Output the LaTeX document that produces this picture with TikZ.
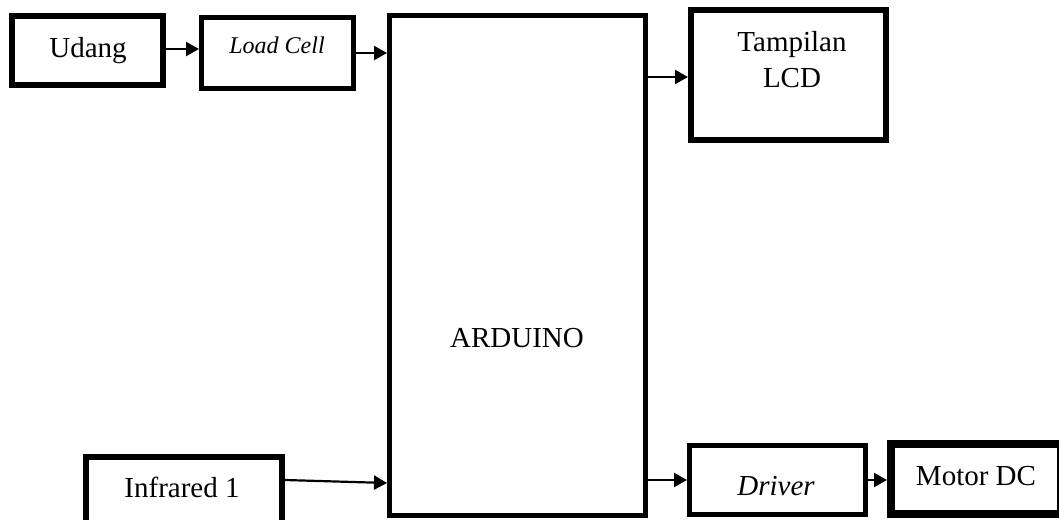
\documentclass[tikz,border=0pt]{standalone}
\usepackage{fontspec}
\setmainfont{Liberation Serif}
\usetikzlibrary{arrows.meta}
\begin{document}
\begin{tikzpicture}[x=1pt,y=-1pt,
  blk/.style={draw=black, fill=white, rectangle, inner sep=0pt},
  lbl/.style={anchor=base, inner sep=0pt, font=\fontsize{29}{37}\selectfont},
  conn/.style={line width=2.2pt, -{Triangle[length=13pt 0 0,width=14pt 0 0]}}]
\useasboundingbox (0,0) rectangle (1059,519);
\clip (0,0) rectangle (1059,519);
% boxes
\node (udang) [blk, line width=6pt, minimum width=151pt, minimum height=69pt] at (87.5,50.5) {};
\node (load)  [blk, line width=5pt, minimum width=152pt, minimum height=71pt] at (277.5,53) {};
\node (ard)   [blk, line width=5pt, minimum width=256pt, minimum height=500pt] at (517.5,265.5) {};
\node (lcd)   [blk, line width=6pt, minimum width=195pt, minimum height=130pt] at (788.5,75) {};
\node (infra) [blk, line width=6pt, minimum width=196pt, minimum height=75pt] at (184,494.5) {};
\node (drv)   [blk, line width=5pt, minimum width=176pt, minimum height=69pt] at (777.5,480) {};
\node (motor) [blk, line width=8pt, minimum width=170pt, minimum height=70pt] at (976,479) {};
% texts
\node (tudang) [lbl] at (88,58) {Udang};
\node (tload)  [lbl, font=\fontsize{24}{30}\selectfont\itshape] at (277,54) {Load Cell};
\node (tlcd1)  [lbl] at (792,52) {Tampilan};
\node (tlcd2)  [lbl] at (792,87) {LCD};
\node (tard)   [lbl] at (517,347) {ARDUINO};
\node (tinfra) [lbl] at (182,497) {Infrared 1};
\node (tdrv)   [lbl, font=\fontsize{29}{37}\selectfont\itshape] at (776,495) {Driver};
\node (tmotor) [lbl] at (976,485) {Motor DC};
% connectors
\draw[conn] ([yshift=1.5pt]udang.east) -- ([yshift=1.5pt]load.west |- udang.east);
\draw[conn] (load.east) -- (ard.west |- load.east);
\draw[conn] ([yshift=-2pt]ard.east |- lcd.west) -- ([yshift=-2pt]lcd.west);
\draw[conn] ([yshift=14.5pt]infra.east) -- ([yshift=11.5pt]ard.west |- infra.east);
\draw[conn] (ard.east |- drv.west) -- (drv.west);
\draw[conn] (drv.east) -- (motor.west |- drv.east);
\end{tikzpicture}
\end{document}
